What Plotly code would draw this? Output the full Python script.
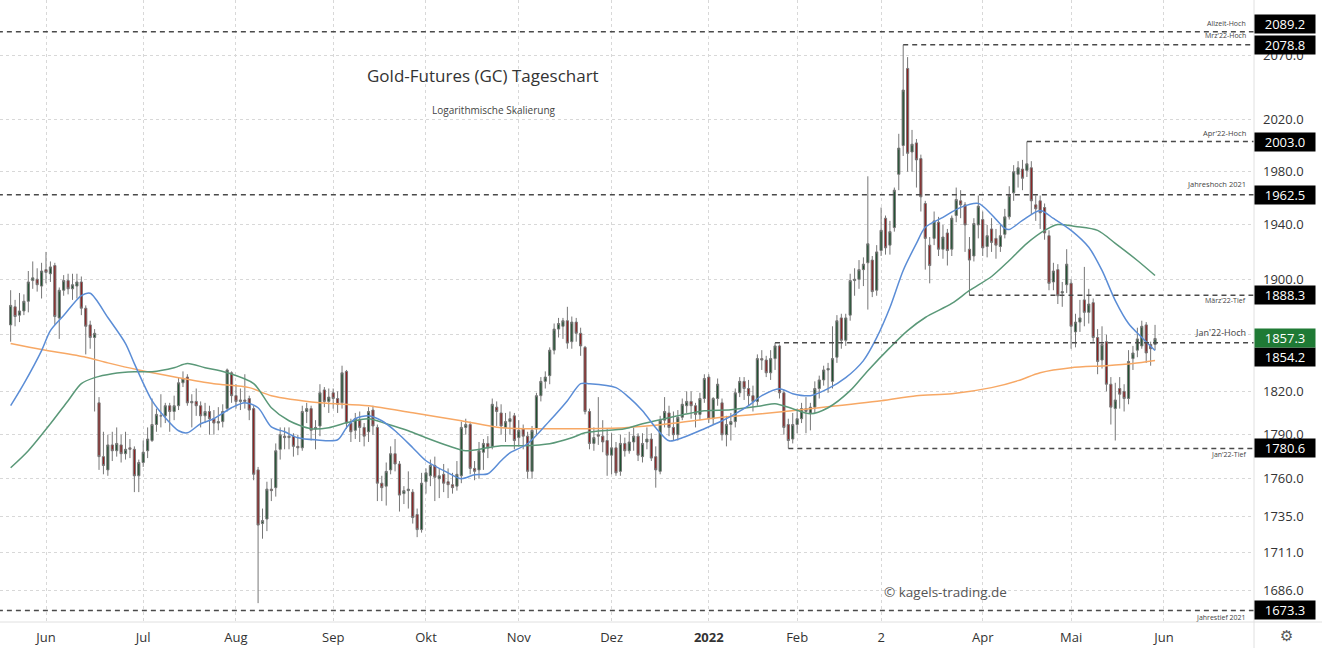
import numpy as np
import pandas as pd
import plotly.graph_objects as go

# ---------------- data ----------------
holidays = ["2021-05-31", "2021-07-05", "2021-09-06", "2021-11-25", "2021-12-24",
            "2022-01-17", "2022-02-21", "2022-04-15", "2022-05-30"]

# OHLC by month (trading days 2021-05-19 .. 2022-05-27)
o_may21 = [1867, 1880, 1874, 1877, 1884, 1899, 1900, 1895]
h_may21 = [1892, 1885, 1890, 1889, 1906, 1913, 1908, 1912]
l_may21 = [1855, 1866, 1869, 1874, 1876, 1893, 1891, 1886]
c_may21 = [1881, 1873, 1877, 1884, 1898, 1901, 1896, 1906]

o_jun21 = [1907, 1904, 1910, 1872, 1892, 1899, 1893, 1895, 1898, 1879, 1867, 1858, 1812, 1775, 1766, 1783, 1779, 1783, 1777, 1781, 1780, 1762]
h_jun21 = [1920, 1913, 1912, 1894, 1903, 1904, 1904, 1904, 1902, 1881, 1870, 1864, 1816, 1792, 1790, 1792, 1795, 1790, 1792, 1787, 1782, 1773]
l_jun21 = [1897, 1898, 1867, 1857, 1888, 1889, 1885, 1886, 1874, 1846, 1850, 1806, 1766, 1763, 1762, 1772, 1775, 1771, 1773, 1774, 1751, 1751]
c_jun21 = [1905, 1909, 1873, 1892, 1899, 1893, 1896, 1898, 1879, 1866, 1858, 1861, 1775, 1769, 1783, 1779, 1784, 1777, 1780, 1780, 1762, 1771]

o_jul21 = [1771, 1779, 1786, 1797, 1803, 1803, 1810, 1806, 1810, 1826, 1830, 1812, 1813, 1810, 1803, 1806, 1801, 1798, 1799, 1808, 1833]
h_jul21 = [1786, 1795, 1815, 1808, 1818, 1812, 1812, 1817, 1830, 1834, 1832, 1818, 1822, 1813, 1812, 1810, 1807, 1809, 1811, 1836, 1834]
l_jul21 = [1768, 1774, 1785, 1792, 1795, 1798, 1792, 1800, 1807, 1823, 1810, 1795, 1803, 1795, 1798, 1790, 1790, 1793, 1795, 1806, 1812]
c_jul21 = [1778, 1787, 1797, 1804, 1803, 1810, 1806, 1810, 1826, 1829, 1812, 1813, 1810, 1803, 1806, 1801, 1798, 1799, 1806, 1835, 1817]

o_aug21 = [1817, 1813, 1814, 1815, 1808, 1766, 1730, 1733, 1753, 1754, 1780, 1789, 1788, 1789, 1782, 1781, 1806, 1808, 1794, 1796, 1821, 1813]
h_aug21 = [1825, 1822, 1832, 1817, 1810, 1768, 1740, 1758, 1760, 1784, 1795, 1795, 1795, 1791, 1790, 1810, 1812, 1810, 1800, 1825, 1823, 1822]
l_aug21 = [1808, 1807, 1808, 1800, 1759, 1678, 1720, 1725, 1745, 1748, 1773, 1780, 1780, 1775, 1776, 1779, 1798, 1786, 1780, 1789, 1809, 1805]
c_aug21 = [1813, 1814, 1813, 1807, 1763, 1729, 1732, 1753, 1752, 1779, 1790, 1788, 1789, 1782, 1781, 1806, 1808, 1793, 1795, 1819, 1813, 1816]

o_sep21 = [1819, 1815, 1812, 1834, 1798, 1793, 1800, 1795, 1792, 1807, 1795, 1757, 1755, 1766, 1777, 1770, 1750, 1752, 1751, 1736, 1726]
h_sep21 = [1822, 1820, 1838, 1835, 1801, 1805, 1806, 1798, 1809, 1810, 1797, 1762, 1771, 1782, 1787, 1772, 1755, 1765, 1753, 1740, 1764]
l_sep21 = [1808, 1805, 1808, 1794, 1785, 1787, 1785, 1782, 1785, 1790, 1745, 1745, 1742, 1763, 1765, 1738, 1743, 1740, 1730, 1721, 1724]
c_sep21 = [1815, 1811, 1833, 1798, 1792, 1801, 1795, 1789, 1806, 1796, 1757, 1754, 1765, 1777, 1770, 1749, 1752, 1753, 1734, 1726, 1757]

o_oct21 = [1758, 1762, 1769, 1760, 1763, 1758, 1756, 1755, 1762, 1795, 1797, 1767, 1766, 1778, 1784, 1782, 1809, 1805, 1795, 1799, 1803]
h_oct21 = [1767, 1773, 1775, 1767, 1770, 1767, 1764, 1772, 1799, 1801, 1799, 1772, 1785, 1787, 1789, 1815, 1813, 1811, 1805, 1806, 1805]
l_oct21 = [1750, 1755, 1745, 1747, 1751, 1747, 1750, 1752, 1757, 1790, 1763, 1759, 1760, 1766, 1774, 1780, 1796, 1790, 1785, 1790, 1780]
c_oct21 = [1764, 1769, 1761, 1762, 1757, 1756, 1754, 1763, 1795, 1797, 1767, 1765, 1779, 1784, 1781, 1811, 1806, 1796, 1799, 1801, 1786]

o_nov21 = [1788, 1794, 1789, 1765, 1794, 1817, 1827, 1831, 1849, 1864, 1866, 1870, 1855, 1869, 1861, 1851, 1806, 1784, 1790, 1789, 1786]
h_nov21 = [1800, 1797, 1792, 1796, 1819, 1830, 1834, 1851, 1868, 1872, 1872, 1880, 1873, 1872, 1865, 1852, 1808, 1795, 1816, 1800, 1794]
l_nov21 = [1782, 1780, 1760, 1760, 1790, 1813, 1822, 1825, 1846, 1858, 1857, 1850, 1850, 1855, 1845, 1804, 1780, 1779, 1783, 1778, 1762]
c_nov21 = [1793, 1789, 1765, 1793, 1817, 1827, 1830, 1849, 1864, 1868, 1870, 1854, 1869, 1861, 1852, 1806, 1784, 1788, 1789, 1785, 1776]

o_dec21 = [1776, 1781, 1765, 1784, 1779, 1785, 1789, 1775, 1785, 1787, 1775, 1765, 1800, 1805, 1795, 1790, 1802, 1810, 1813, 1810, 1804, 1815]
h_dec21 = [1791, 1785, 1790, 1788, 1792, 1795, 1791, 1791, 1795, 1791, 1782, 1803, 1816, 1810, 1806, 1807, 1815, 1820, 1820, 1812, 1819, 1832]
l_dec21 = [1763, 1762, 1762, 1775, 1777, 1779, 1772, 1771, 1780, 1772, 1754, 1763, 1795, 1789, 1786, 1786, 1800, 1805, 1801, 1795, 1800, 1812]
c_dec21 = [1781, 1764, 1784, 1779, 1785, 1789, 1776, 1784, 1787, 1774, 1766, 1800, 1806, 1795, 1790, 1802, 1811, 1813, 1810, 1804, 1815, 1829]

o_jan22 = [1830, 1801, 1815, 1812, 1790, 1797, 1799, 1819, 1827, 1822, 1817, 1813, 1843, 1842, 1833, 1843, 1852, 1819, 1797, 1787]
h_jan22 = [1832, 1816, 1829, 1815, 1803, 1805, 1822, 1830, 1830, 1828, 1824, 1846, 1849, 1845, 1849, 1854.2, 1853, 1821, 1801, 1805]
l_jan22 = [1798, 1797, 1810, 1786, 1782, 1786, 1795, 1816, 1814, 1810, 1806, 1810, 1835, 1830, 1828, 1835, 1815, 1790, 1780.6, 1784]
c_jan22 = [1801, 1815, 1825, 1790, 1797, 1799, 1819, 1827, 1822, 1817, 1813, 1843, 1842, 1833, 1843, 1852, 1819, 1795, 1786, 1797]

o_feb22 = [1797, 1801, 1808, 1805, 1809, 1822, 1828, 1835, 1827, 1844, 1872, 1856, 1874, 1899, 1900, 1907, 1912, 1914, 1892]
h_feb22 = [1808, 1812, 1816, 1812, 1827, 1831, 1838, 1840, 1866, 1874, 1875, 1875, 1904, 1908, 1914, 1916, 1976.5, 1917, 1925]
l_feb22 = [1791, 1798, 1791, 1793, 1805, 1815, 1824, 1819, 1822, 1840, 1850, 1852, 1870, 1888, 1893, 1895, 1878, 1887, 1888]
c_feb22 = [1801, 1808, 1806, 1809, 1822, 1828, 1835, 1836, 1843, 1870, 1856, 1872, 1899, 1900, 1907, 1911, 1926, 1891, 1920]

o_mar22 = [1921, 1945, 1925, 1938, 1978, 2000, 2060, 1995, 2002, 1990, 1956, 1925, 1930, 1942, 1922, 1934, 1922, 1947, 1958, 1955, 1922, 1917, 1940]
h_mar22 = [1953, 1947, 1943, 1968, 2009, 2078.8, 2069, 2012, 2005, 1993, 1958, 1931, 1950, 1946, 1940, 1937, 1947, 1968, 1966, 1957, 1931, 1945, 1962]
l_mar22 = [1917, 1918, 1918, 1935, 1966, 1992, 1980, 1980, 1968, 1950, 1907, 1897, 1925, 1917, 1915, 1910, 1917, 1942, 1945, 1920, 1888.3, 1913, 1930]
c_mar22 = [1936, 1923, 1935, 1966, 1998, 2043, 1994, 2001, 1989, 1961, 1930, 1910, 1943, 1922, 1931, 1921, 1945, 1959, 1955, 1940, 1914, 1941, 1954]

o_apr22 = [1944, 1924, 1937, 1930, 1924, 1933, 1946, 1964, 1978, 1982, 1981, 1983, 1955, 1958, 1953, 1932, 1898, 1907, 1890, 1896]
h_apr22 = [1950, 1940, 1945, 1937, 1940, 1952, 1969, 1985, 1988, 1989, 2003.0, 1988, 1962, 1962, 1956, 1936, 1912, 1911, 1898, 1922]
l_apr22 = [1917, 1916, 1920, 1915, 1920, 1930, 1944, 1958, 1968, 1966, 1976, 1948, 1943, 1937, 1929, 1892, 1892, 1882, 1880, 1890]
c_apr22 = [1923, 1932, 1927, 1925, 1932, 1946, 1962, 1980, 1983, 1975, 1986, 1958, 1952, 1949, 1934, 1897, 1906, 1888, 1891, 1911]

o_may22 = [1897, 1862, 1869, 1885, 1876, 1883, 1858, 1842, 1855, 1825, 1808, 1822, 1820, 1815, 1843, 1849, 1852, 1867, 1853, 1853]
h_may22 = [1900, 1875, 1885, 1909, 1893, 1886, 1864, 1866, 1860, 1830, 1826, 1830, 1825, 1849, 1852, 1865, 1870, 1869, 1855, 1867]
l_may22 = [1850, 1851, 1862, 1866, 1868, 1855, 1832, 1836, 1820, 1797, 1786, 1808, 1806, 1811, 1835, 1844, 1850, 1840, 1838, 1849]
c_may22 = [1866, 1869, 1872, 1876, 1882, 1858, 1841, 1853, 1825, 1809, 1814, 1818, 1815, 1841, 1847, 1857, 1866, 1847, 1850, 1857.3]

# moving averages (sample points)
ma_blue_dates = ["2021-05-19", "2021-05-24", "2021-05-28", "2021-06-02", "2021-06-07", "2021-06-11", "2021-06-15",
                 "2021-06-21", "2021-06-25", "2021-06-29", "2021-07-06", "2021-07-09", "2021-07-14", "2021-07-16",
                 "2021-07-21", "2021-07-26", "2021-07-30", "2021-08-04", "2021-08-09", "2021-08-12", "2021-08-17",
                 "2021-08-20", "2021-08-26", "2021-09-02", "2021-09-07", "2021-09-09", "2021-09-14", "2021-09-17",
                 "2021-09-22", "2021-09-28", "2021-10-01", "2021-10-08", "2021-10-13", "2021-10-18", "2021-10-21",
                 "2021-10-26", "2021-10-28", "2021-11-03", "2021-11-10", "2021-11-16", "2021-11-19", "2021-11-23",
                 "2021-12-02", "2021-12-07", "2021-12-10", "2021-12-15", "2021-12-20", "2021-12-23", "2021-12-31",
                 "2022-01-06", "2022-01-11", "2022-01-14", "2022-01-20", "2022-01-26", "2022-01-31", "2022-02-04",
                 "2022-02-10", "2022-02-16", "2022-02-23", "2022-02-28", "2022-03-03", "2022-03-08", "2022-03-11",
                 "2022-03-15", "2022-03-21", "2022-03-25", "2022-03-31", "2022-04-05", "2022-04-08", "2022-04-11",
                 "2022-04-14", "2022-04-21", "2022-04-26", "2022-05-02", "2022-05-06", "2022-05-11", "2022-05-16",
                 "2022-05-19", "2022-05-24", "2022-05-27"]
ma_blue_vals = [1810.0, 1825.4, 1848.7, 1862.9, 1873.7, 1888.1, 1889.8,
                1872.3, 1853.7, 1839.5, 1813.5, 1801.7, 1792.7, 1791.3,
                1797.5, 1801.0, 1808.6, 1812.1, 1808.6, 1795.4, 1792.0,
                1787.9, 1786.5, 1786.5, 1794.8, 1801.0, 1803.1, 1799.6,
                1792.7, 1781.1, 1772.2, 1764.0, 1760.0, 1762.7, 1763.4,
                1772.2, 1777.6, 1783.8, 1799.6, 1813.5, 1825.4, 1825.4,
                1822.6, 1815.6, 1806.5, 1794.8, 1785.8, 1787.9, 1794.1,
                1799.6, 1804.4, 1810.0, 1817.0, 1821.9, 1818.4, 1817.0,
                1821.9, 1829.6, 1841.6, 1857.9, 1879.5, 1906.4, 1926.3,
                1938.2, 1945.6, 1953.1, 1956.1, 1947.8, 1937.4, 1936.6,
                1943.3, 1950.8, 1944.8, 1935.9, 1923.4, 1906.4, 1884.5,
                1868.0, 1858.0, 1848.7]

ma_green_dates = ["2021-05-19", "2021-05-25", "2021-06-02", "2021-06-08", "2021-06-11", "2021-06-16", "2021-06-22",
                  "2021-06-29", "2021-07-06", "2021-07-13", "2021-07-16", "2021-07-22", "2021-07-29", "2021-08-06",
                  "2021-08-12", "2021-08-18", "2021-08-25", "2021-08-31", "2021-09-07", "2021-09-14", "2021-09-20",
                  "2021-09-27", "2021-10-01", "2021-10-08", "2021-10-14", "2021-10-21", "2021-10-26", "2021-11-02",
                  "2021-11-10", "2021-11-17", "2021-11-22", "2021-12-06", "2021-12-10", "2021-12-20", "2021-12-31",
                  "2022-01-10", "2022-01-20", "2022-01-25", "2022-01-31", "2022-02-04", "2022-02-10", "2022-02-17",
                  "2022-02-24", "2022-03-03", "2022-03-09", "2022-03-15", "2022-03-23", "2022-03-29", "2022-04-05",
                  "2022-04-11", "2022-04-18", "2022-04-22", "2022-04-27", "2022-05-03", "2022-05-10", "2022-05-16",
                  "2022-05-23", "2022-05-27"]
ma_green_vals = [1767.4, 1779.0, 1797.5, 1813.5, 1825.4, 1829.6, 1832.4,
                 1833.8, 1833.8, 1836.6, 1839.5, 1836.6, 1833.1, 1825.4,
                 1808.6, 1799.6, 1794.1, 1794.8, 1798.2, 1801.0, 1797.5,
                 1792.7, 1787.9, 1782.4, 1779.0, 1781.1, 1782.4, 1782.4,
                 1783.8, 1787.9, 1791.3, 1794.1, 1797.5, 1801.7, 1806.5,
                 1807.2, 1810.0, 1811.4, 1807.9, 1804.4, 1808.6, 1820.5,
                 1834.5, 1850.8, 1862.9, 1872.3, 1882.4, 1891.8, 1902.0,
                 1913.7, 1926.3, 1935.9, 1940.3, 1938.8, 1935.9, 1926.3,
                 1913.7, 1902.7]

ma_orange_dates = ["2021-05-19", "2021-05-28", "2021-06-14", "2021-06-21", "2021-06-30", "2021-07-14", "2021-07-26",
                   "2021-08-05", "2021-08-12", "2021-08-27", "2021-09-14", "2021-09-28", "2021-10-13", "2021-10-26",
                   "2021-11-03", "2021-11-17", "2021-12-06", "2021-12-20", "2022-01-05", "2022-01-20", "2022-02-08",
                   "2022-03-01", "2022-03-11", "2022-03-23", "2022-04-05", "2022-04-13", "2022-04-21", "2022-05-02",
                   "2022-05-12", "2022-05-20", "2022-05-27"]
ma_orange_vals = [1853.7, 1849.4, 1844.0, 1840.0, 1835.0, 1829.6, 1825.4,
                  1822.6, 1817.0, 1812.1, 1810.0, 1805.1, 1799.6, 1794.8,
                  1794.1, 1794.1, 1794.8, 1797.5, 1801.7, 1804.4, 1808.6,
                  1813.5, 1817.0, 1818.4, 1822.6, 1827.5, 1833.1, 1836.6,
                  1838.0, 1839.5, 1841.6]

# marked price levels
level_values = [2089.2, 2078.8, 2003.0, 1962.5, 1888.3, 1854.2, 1780.6, 1673.3]
level_names = ["Allzeit-Hoch", "Mrz'22-Hoch", "Apr'22-Hoch", "Jahreshoch 2021",
               "März'22-Tief", "Jan'22-Hoch", "Jan'22-Tief", "Jahrestief 2021"]
level_start = [None, "2022-03-08", "2022-04-18", None, "2022-03-29", "2022-01-25", "2022-01-28", None]

y_ticks = [1686, 1711, 1735, 1760, 1790, 1820, 1860, 1900, 1940, 1980, 2020, 2070]
y_hidden = [1860]  # covered by the price box in the reference
month_ticks = ["2021-06-01", "2021-07-01", "2021-08-02", "2021-09-01", "2021-10-01", "2021-11-01",
               "2021-12-01", "2022-01-03", "2022-02-01", "2022-03-01", "2022-04-01", "2022-05-02", "2022-06-01"]
month_labels = ["Jun", "Jul", "Aug", "Sep", "Okt", "Nov", "Dez", "<b>2022</b>", "Feb", "2", "Apr", "Mai", "Jun"]

# ---------------- assemble ----------------
opens = o_may21 + o_jun21 + o_jul21 + o_aug21 + o_sep21 + o_oct21 + o_nov21 + o_dec21 + o_jan22 + o_feb22 + o_mar22 + o_apr22 + o_may22
highs = h_may21 + h_jun21 + h_jul21 + h_aug21 + h_sep21 + h_oct21 + h_nov21 + h_dec21 + h_jan22 + h_feb22 + h_mar22 + h_apr22 + h_may22
lows = l_may21 + l_jun21 + l_jul21 + l_aug21 + l_sep21 + l_oct21 + l_nov21 + l_dec21 + l_jan22 + l_feb22 + l_mar22 + l_apr22 + l_may22
closes = c_may21 + c_jun21 + c_jul21 + c_aug21 + c_sep21 + c_oct21 + c_nov21 + c_dec21 + c_jan22 + c_feb22 + c_mar22 + c_apr22 + c_may22

dates = pd.bdate_range("2021-05-19", "2022-05-27", freq="C", holidays=holidays)
assert len(dates) == len(opens) == len(highs) == len(lows) == len(closes), (len(dates), len(opens), len(highs), len(lows), len(closes))


def noon(d):
    return (pd.Timestamp(d) + pd.Timedelta(hours=12)).strftime("%Y-%m-%d %H:%M")


x = [noon(d) for d in dates]

fig = go.Figure()
fig.add_trace(go.Candlestick(
    x=x, open=opens, high=highs, low=lows, close=closes,
    increasing=dict(line=dict(color="#777777", width=1), fillcolor="#1f5130"),
    decreasing=dict(line=dict(color="#777777", width=1), fillcolor="#8c1f1f"),
    whiskerwidth=0, showlegend=False, hoverinfo="skip"))

for dts, vals, col in [(ma_orange_dates, ma_orange_vals, "#f7a865"),
                       (ma_green_dates, ma_green_vals, "#5a9878"),
                       (ma_blue_dates, ma_blue_vals, "#5b8dd6")]:
    fig.add_trace(go.Scatter(x=[noon(d) for d in dts], y=vals, mode="lines",
                             line=dict(color=col, width=1.5, shape="spline", smoothing=0.8),
                             showlegend=False, hoverinfo="skip"))

x_left = "2021-05-17 02:10"
x_right = "2022-06-29 21:30"
for v, s in zip(level_values, level_start):
    x0 = "2021-05-10 12:00" if s is None else noon(s)
    fig.add_trace(go.Scatter(x=[x0, "2022-07-15 12:00"], y=[v, v], mode="lines",
                             line=dict(color="#4a4a4a", width=1.5, dash="5px,4px"),
                             showlegend=False, hoverinfo="skip"))

annotations = []
# level names
name_shift = [8.6, 9.5, 8.5, 11, -5.5, 10.5, -6.5, -7]
name_size = [7, 7, 7.5, 7.5, 7, 9, 7, 7]
for v, n, sh, fs in zip(level_values, level_names, name_shift, name_size):
    annotations.append(dict(xref="paper", yref="y", x=0.9952, y=np.log10(v), yshift=sh,
                            text=n, showarrow=False, xanchor="right", yanchor="middle",
                            font=dict(size=fs, color="#444444", family="Open Sans")))
# price boxes
box_shift = [8, 0, 0, 0, 0, -14, 0, 0]
for v, sh in zip(level_values, box_shift):
    annotations.append(dict(xref="paper", yref="y", x=1.0, y=np.log10(v), yshift=sh,
                            text=f"{v:.1f}", showarrow=False, xanchor="left", yanchor="middle",
                            bgcolor="#000000", width=58, height=16, borderpad=1, align="center",
                            font=dict(size=13, color="#ffffff", family="Open Sans")))
last = closes[-1]
annotations.append(dict(xref="paper", yref="y", x=1.0, y=np.log10(last),
                        text=f"{last:.1f}", showarrow=False, xanchor="left", yanchor="middle",
                        bgcolor="#1f7a35", width=58, height=16, borderpad=1, align="center",
                        font=dict(size=13, color="#ffffff", family="Open Sans")))
# titles
annotations.append(dict(xref="paper", yref="paper", x=483 / 1254, y=1 - 75 / 622,
                        xanchor="center", yanchor="middle",
                        text="Gold-Futures (GC) Tageschart", showarrow=False,
                        font=dict(size=17, color="#333333", family="Open Sans")))
annotations.append(dict(xref="paper", yref="paper", x=494 / 1254, y=1 - 110 / 622,
                        xanchor="center", yanchor="middle",
                        text="Logarithmische Skalierung", showarrow=False,
                        font=dict(size=10, color="#444444", family="Open Sans")))
annotations.append(dict(xref="paper", yref="paper", x=945 / 1254, y=1 - 592 / 622,
                        xanchor="center", yanchor="middle",
                        text="© kagels-trading.de", showarrow=False,
                        font=dict(size=13.5, color="#555555", family="Open Sans")))
annotations.append(dict(xref="paper", yref="paper", x=1286 / 1254, y=-14 / 622,
                        xanchor="center", yanchor="middle",
                        text="⚙", showarrow=False,
                        font=dict(size=15, color="#555555", family="DejaVu Sans")))

shapes = [
    dict(type="line", xref="paper", yref="paper", x0=0, x1=1322 / 1254, y0=0, y1=0,
         line=dict(color="#e0e0e0", width=1)),
    dict(type="line", xref="paper", yref="paper", x0=1, x1=1, y0=-26 / 622, y1=1,
         line=dict(color="#e0e0e0", width=1)),
]

fig.update_layout(
    width=1322, height=648,
    margin=dict(l=0, r=68, t=0, b=26),
    paper_bgcolor="white", plot_bgcolor="white",
    font=dict(family="Open Sans", color="#333333"),
    showlegend=False,
    annotations=annotations, shapes=shapes,
    xaxis=dict(type="date", range=[x_left, x_right],
               rangebreaks=[dict(bounds=["sat", "mon"]), dict(values=holidays)],
               rangeslider=dict(visible=False),
               tickmode="array", tickvals=[noon(d) for d in month_ticks], ticktext=month_labels,
               showgrid=True, gridcolor="#d8d8d8", griddash="dot", gridwidth=1,
               zeroline=False, showline=False, ticks="", ticklabelstandoff=6,
               tickfont=dict(size=13, color="#333333")),
    yaxis=dict(type="log", side="right",
               range=[np.log10(1665.9), np.log10(2114.8)],
               tickmode="array", tickvals=y_ticks,
               ticktext=["" if t in y_hidden else f"{t:.1f}" for t in y_ticks],
               showgrid=True, gridcolor="#d8d8d8", griddash="dot", gridwidth=1,
               zeroline=False, showline=False, ticks="", ticklabelstandoff=8,
               tickfont=dict(size=13, color="#333333")),
)

fig.write_html("out.html", config={"displayModeBar": False},
               post_script="document.body.style.margin='0';document.body.style.overflow='hidden';")
